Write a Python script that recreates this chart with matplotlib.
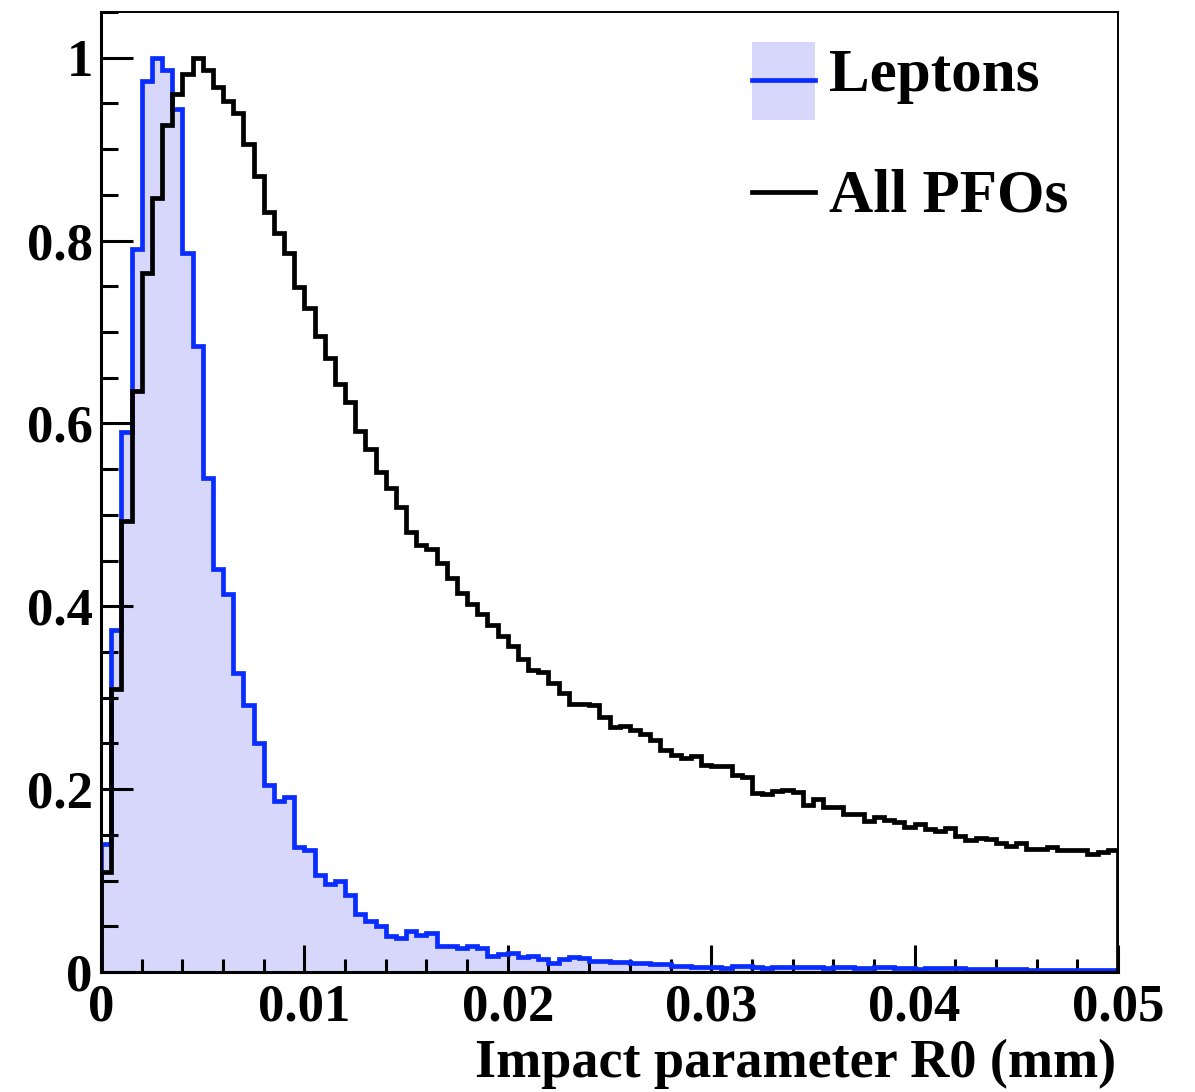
import matplotlib
import numpy as np

matplotlib.use("Agg")
import matplotlib.pyplot as plt
from matplotlib.patches import Rectangle
from matplotlib.lines import Line2D
from matplotlib.ticker import MultipleLocator, FixedFormatter, FixedLocator

# 100 bins from 0 to 0.05 mm, normalised to peak = 1
bin_edges = np.linspace(0.0, 0.05, 101)

all_pfos = [
    0.109, 0.310, 0.493, 0.636, 0.764, 0.847, 0.926, 0.960, 0.982, 1.000,
    0.987, 0.968, 0.953, 0.940, 0.906, 0.871, 0.831, 0.808, 0.786, 0.749,
    0.726, 0.696, 0.672, 0.643, 0.623, 0.592, 0.572, 0.547, 0.529, 0.509,
    0.481, 0.467, 0.463, 0.447, 0.431, 0.414, 0.403, 0.392, 0.379, 0.368,
    0.357, 0.342, 0.330, 0.328, 0.316, 0.305, 0.293, 0.293, 0.292, 0.279,
    0.268, 0.269, 0.265, 0.260, 0.254, 0.243, 0.237, 0.234, 0.236, 0.226,
    0.225, 0.225, 0.215, 0.213, 0.196, 0.195, 0.198, 0.199, 0.197, 0.183,
    0.189, 0.180, 0.181, 0.173, 0.173, 0.165, 0.170, 0.166, 0.164, 0.159,
    0.162, 0.156, 0.154, 0.157, 0.149, 0.144, 0.147, 0.145, 0.141, 0.138,
    0.141, 0.135, 0.135, 0.137, 0.133, 0.133, 0.133, 0.129, 0.131, 0.133,
]

leptons = [
    0.140, 0.374, 0.591, 0.791, 0.975, 1.000, 0.987, 0.944, 0.786, 0.685,
    0.540, 0.441, 0.413, 0.327, 0.292, 0.251, 0.205, 0.187, 0.191, 0.137,
    0.133, 0.106, 0.096, 0.099, 0.084, 0.063, 0.056, 0.050, 0.039, 0.037,
    0.045, 0.040, 0.043, 0.028, 0.028, 0.026, 0.028, 0.026, 0.017, 0.020,
    0.021, 0.016, 0.017, 0.014, 0.010, 0.014, 0.016, 0.015, 0.012, 0.012,
    0.011, 0.011, 0.010, 0.010, 0.009, 0.009, 0.007, 0.007, 0.006, 0.006,
    0.005, 0.004, 0.007, 0.007, 0.006, 0.004, 0.005, 0.006, 0.006, 0.005,
    0.005, 0.004, 0.006, 0.005, 0.004, 0.004, 0.005, 0.005, 0.004, 0.004,
    0.003, 0.004, 0.004, 0.004, 0.004, 0.003, 0.003, 0.003, 0.003, 0.003,
    0.003, 0.002, 0.002, 0.002, 0.002, 0.002, 0.002, 0.002, 0.002, 0.002,
]

x_ticks = [0, 0.01, 0.02, 0.03, 0.04, 0.05]
x_tick_labels = ["0", "0.01", "0.02", "0.03", "0.04", "0.05"]
y_ticks = [0, 0.2, 0.4, 0.6, 0.8, 1.0]
y_tick_labels = ["0", "0.2", "0.4", "0.6", "0.8", "1"]

plt.rcParams["font.family"] = ["Liberation Serif", "DejaVu Serif"]
plt.rcParams["font.weight"] = "bold"

W, H = 1195, 1092
fig = plt.figure(figsize=(W / 100, H / 100), dpi=100)
ax = fig.add_axes([101 / W, 1 - 972 / H, (1118 - 101) / W, (972 - 12) / H])

fill_col = "#d6d7fa"
blue = "#0a2dff"

ax.stairs(leptons, bin_edges, fill=True, color=fill_col, baseline=0, zorder=1)
ax.stairs(leptons, bin_edges, color=blue, lw=3.4, baseline=0, zorder=2)
ax.stairs(all_pfos, bin_edges, color="black", lw=3.4, baseline=0, zorder=3)

ax.set_xlim(0, 0.05)
ax.set_ylim(0, 1.05)

ax.xaxis.set_major_locator(FixedLocator(x_ticks))
ax.xaxis.set_major_formatter(FixedFormatter(x_tick_labels))
ax.xaxis.set_minor_locator(MultipleLocator(0.002))
ax.yaxis.set_major_locator(FixedLocator(y_ticks))
ax.yaxis.set_major_formatter(FixedFormatter(y_tick_labels))
ax.yaxis.set_minor_locator(MultipleLocator(0.05))

ax.tick_params(axis="both", which="both", direction="in", top=False, right=False,
               width=2.2, labelsize=38)
ax.tick_params(axis="y", which="major", length=23, pad=6)
ax.tick_params(axis="y", which="minor", length=12)
ax.tick_params(axis="x", which="major", length=19.5, pad=8)
ax.tick_params(axis="x", which="minor", length=9.5)
for lab in ax.get_xticklabels() + ax.get_yticklabels():
    lab.set_fontweight("bold")

for side in ["left", "bottom"]:
    ax.spines[side].set_linewidth(2.2)
for side in ["top", "right"]:
    ax.spines[side].set_linewidth(1.4)

fig.text(1116 / W, 1 - 1064 / H, "Impact parameter R0 (mm)", ha="right", va="center",
         fontsize=39, fontweight="bold")

# legend drawn by hand, ROOT style
fig.add_artist(Rectangle((752 / W, 1 - 120 / H), 63 / W, 78 / H, transform=fig.transFigure,
                         facecolor=fill_col, edgecolor="none"))
fig.add_artist(Line2D([752 / W, 815 / W], [1 - 80 / H] * 2, transform=fig.transFigure,
                      color=blue, lw=3.4))
fig.add_artist(Line2D([752 / W, 815 / W], [1 - 192 / H] * 2, transform=fig.transFigure,
                      color="black", lw=3.4))
fig.text(829 / W, 1 - 76 / H, "Leptons", ha="left", va="center", fontsize=44, fontweight="bold")
fig.text(829 / W, 1 - 196 / H, "All PFOs", ha="left", va="center", fontsize=44, fontweight="bold")

fig.savefig("out.png", dpi=100)
